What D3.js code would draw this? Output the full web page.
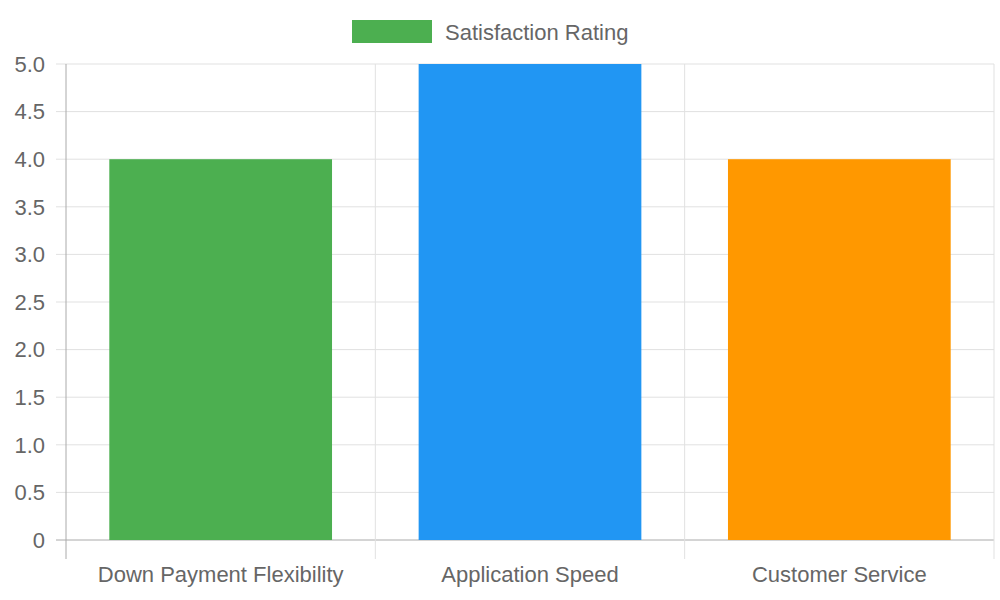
<!DOCTYPE html>
<html><head><meta charset="utf-8">
<script src="https://cdn.jsdelivr.net/npm/d3@7"></script>
<style>body{margin:0;background:#fff}</style>
</head><body><svg id="c" width="1000" height="600"></svg>
<script>
const categories = ["Down Payment Flexibility", "Application Speed", "Customer Service"];
const values = [4, 5, 4];
const colors = ["#4caf50", "#2196f3", "#ff9800"];
const yTicks = [0, 0.5, 1, 1.5, 2, 2.5, 3, 3.5, 4, 4.5, 5];
const seriesName = "Satisfaction Rating";

const svg = d3.select("#c");
const font = "Liberation Sans, Arial, sans-serif";
const L = 66, R = 994, T = 64, B = 540;
const x = d3.scaleBand().domain(categories).range([L, R]);
const y = d3.scaleLinear().domain([0, 5]).range([B, T]);
const grid = "#e1e1e1";

// horizontal grid
svg.selectAll(".hg").data(yTicks).enter().append("line")
  .attr("x1", L - 10).attr("x2", R).attr("y1", d => y(d)).attr("y2", d => y(d))
  .attr("stroke", d => d === 0 ? "#aaa" : grid).attr("stroke-width", 1);
// vertical grid
const vx = categories.map(c => x(c)).concat([R]);
svg.selectAll(".vg").data(vx).enter().append("line")
  .attr("x1", d => d).attr("x2", d => d).attr("y1", T).attr("y2", B + 19)
  .attr("stroke", (d, i) => i === 0 ? "#aaa" : grid).attr("stroke-width", 1);

// bars
svg.selectAll(".bar").data(categories).enter().append("rect")
  .attr("x", d => x(d) + x.bandwidth() * 0.14)
  .attr("width", x.bandwidth() * 0.72)
  .attr("y", (d, i) => y(values[i]))
  .attr("height", (d, i) => B - y(values[i]))
  .attr("fill", (d, i) => colors[i]);

// y labels
svg.selectAll(".yl").data(yTicks).enter().append("text")
  .attr("x", 45).attr("y", d => y(d)).attr("dy", "0.35em")
  .attr("text-anchor", "end").attr("font-family", font).attr("font-size", 22)
  .attr("fill", "#666").text(d => d === 0 ? "0" : d.toFixed(1));
// x labels
svg.selectAll(".xl").data(categories).enter().append("text")
  .attr("x", d => x(d) + x.bandwidth() / 2).attr("y", 582)
  .attr("text-anchor", "middle").attr("font-family", font).attr("font-size", 22)
  .attr("fill", "#666").text(d => d);

// legend
svg.append("rect").attr("x", 352).attr("y", 20).attr("width", 80).attr("height", 23).attr("fill", colors[0]);
svg.append("text").attr("x", 445).attr("y", 32).attr("dy", "0.35em")
  .attr("font-family", font).attr("font-size", 22).attr("fill", "#666").text(seriesName);
</script></body></html>
